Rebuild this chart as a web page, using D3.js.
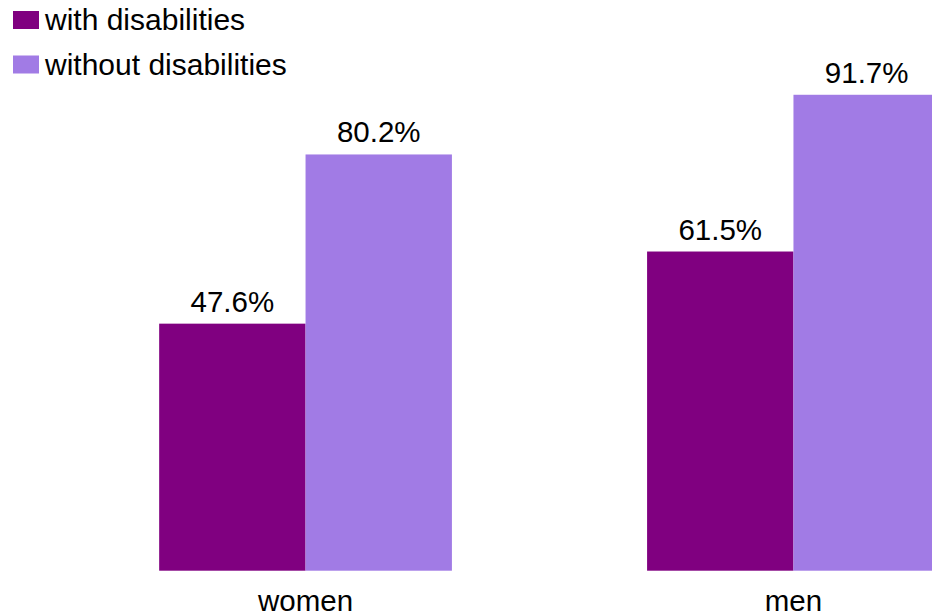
<!DOCTYPE html>
<html>
<head>
<meta charset="utf-8">
<script src="https://cdn.jsdelivr.net/npm/d3@7"></script>
<style>
  html, body { margin: 0; padding: 0; background: #fff; }
  svg { display: block; font-family: "Liberation Sans", Arial, sans-serif; }
</style>
</head>
<body>
<svg id="chart" width="932" height="615"></svg>
<script>
// Share of people in work, by sex and disability status (%)
const groups = ["women", "men"];
const series = ["with disabilities", "without disabilities"];
const withDisabilities = [47.6, 61.5];
const withoutDisabilities = [80.2, 91.7];
const colors = ["#800080", "#a17be5"];

const rows = groups.map((g, i) => ({
  group: g,
  values: [withDisabilities[i], withoutDisabilities[i]]
}));

const svg = d3.select("#chart");

const x0 = d3.scaleBand()
  .domain(groups)
  .range([-36, 1135])
  .paddingInner(0.4)
  .paddingOuter(0.4);

const x1 = d3.scaleBand()
  .domain(series)
  .range([0, x0.bandwidth()]);

const y = d3.scaleLinear()
  .domain([0, 100])
  .range([570.7, 51.7]);

const color = d3.scaleOrdinal().domain(series).range(colors);

const g = svg.append("g");

const grp = g.selectAll("g.group")
  .data(rows)
  .join("g")
  .attr("class", "group")
  .attr("transform", d => `translate(${x0(d.group)},0)`);

const cells = grp.selectAll("g.cell")
  .data(d => d.values.map((v, j) => ({ key: series[j], value: v })))
  .join("g")
  .attr("class", "cell");

cells.append("rect")
  .attr("x", d => x1(d.key))
  .attr("y", d => y(d.value))
  .attr("width", x1.bandwidth())
  .attr("height", d => y(0) - y(d.value))
  .attr("fill", d => color(d.key));

cells.append("text")
  .attr("x", d => x1(d.key) + x1.bandwidth() / 2)
  .attr("y", d => y(d.value) - 12)
  .attr("text-anchor", "middle")
  .attr("font-size", 29.5)
  .attr("fill", "#000")
  .text(d => d.value.toFixed(1) + "%");

// category axis labels, no line or ticks
const xAxis = d3.axisBottom(x0).tickSize(0).tickPadding(0);
const ax = svg.append("g")
  .attr("transform", `translate(0,${y(0)})`)
  .call(xAxis);
ax.select(".domain").remove();
ax.selectAll("text")
  .attr("font-size", 29.5)
  .attr("font-family", "Liberation Sans, Arial, sans-serif")
  .attr("fill", "#000")
  .attr("dy", null)
  .attr("y", 40.5);

// legend
const legend = svg.append("g").attr("transform", "translate(13,11)");
const item = legend.selectAll("g")
  .data(series)
  .join("g")
  .attr("transform", (d, i) => `translate(0,${i * 44.5})`);
item.append("rect")
  .attr("width", 26)
  .attr("height", 18)
  .attr("fill", d => color(d));
item.append("text")
  .attr("x", 32)
  .attr("y", 19)
  .attr("font-size", 30)
  .attr("fill", "#000")
  .text(d => d);
</script>
</body>
</html>
